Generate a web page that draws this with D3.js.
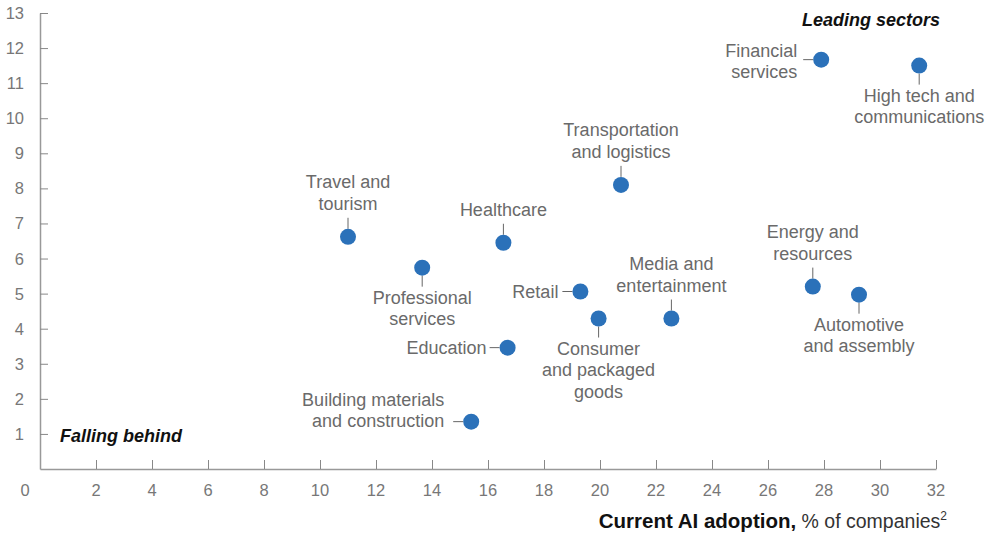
<!DOCTYPE html>
<html>
<head>
<meta charset="utf-8">
<script src="https://cdn.jsdelivr.net/npm/d3@7"></script>
<style>
  html, body { margin: 0; padding: 0; background: #fff; }
  svg { display: block; font-family: "Liberation Sans", Arial, sans-serif; }
  .tick-label { fill: #777; font-size: 16.5px; }
  .pt-label { fill: #6a6a6a; font-size: 18px; }
  .leader { stroke: #666; stroke-width: 1; }
  .corner { fill: #111; font-size: 18px; font-weight: bold; font-style: italic; }
</style>
</head>
<body>
<div id="chart"></div>
<script>
// ---------- Data ----------
const sectors = [
  "Financial services", "High tech and communications", "Transportation and logistics",
  "Travel and tourism", "Healthcare", "Professional services", "Retail",
  "Consumer and packaged goods", "Media and entertainment", "Energy and resources",
  "Automotive and assembly", "Education", "Building materials and construction"
];
const adoption = [27.9, 31.4, 20.75, 11.0, 16.55, 13.65, 19.3, 19.95, 22.55, 27.6, 29.25, 16.7, 15.4];
const growth   = [11.67, 11.5, 8.1, 6.62, 6.45, 5.74, 5.06, 4.29, 4.29, 5.2, 4.97, 3.46, 1.35];

const xTicks = d3.range(2, 33, 2);
const yTicks = d3.range(1, 14);

// label placement (side of the dot, wrapped lines, vertical shift / gap for side labels)
const labelLayout = {
  "Financial services": { side: "left", lines: ["Financial", "services"], dy: -9, gap: 6 },
  "High tech and communications": { side: "bottom", lines: ["High tech and", "communications"] },
  "Transportation and logistics": { side: "top", lines: ["Transportation", "and logistics"] },
  "Travel and tourism": { side: "top", lines: ["Travel and", "tourism"] },
  "Healthcare": { side: "top", lines: ["Healthcare"] },
  "Professional services": { side: "bottom", lines: ["Professional", "services"] },
  "Retail": { side: "left", lines: ["Retail"], dy: 0, gap: 4 },
  "Consumer and packaged goods": { side: "bottom", lines: ["Consumer", "and packaged", "goods"] },
  "Media and entertainment": { side: "top", lines: ["Media and", "entertainment"] },
  "Energy and resources": { side: "top", lines: ["Energy and", "resources"] },
  "Automotive and assembly": { side: "bottom", lines: ["Automotive", "and assembly"] },
  "Education": { side: "left", lines: ["Education"], dy: 0, gap: 3 },
  "Building materials and construction": { side: "left", lines: ["Building materials", "and construction"], dy: -22, gap: 9 }
};

const points = sectors.map((name, i) => ({ name, x: adoption[i], y: growth[i] }));

// ---------- Chart ----------
const width = 986, height = 538;
const r = 8, lineH = 21.5;

const svg = d3.select("#chart").append("svg")
  .attr("width", width)
  .attr("height", height);

const x = d3.scaleLinear().domain([0, 32]).range([40, 936]);
const y = d3.scaleLinear().domain([0, 13]).range([469, 13]);

// axes
svg.append("g")
  .attr("transform", `translate(0,${y(0)})`)
  .call(d3.axisBottom(x).tickValues(xTicks).tickSizeInner(-9).tickSizeOuter(0).tickFormat(""))
  .call(g => g.select(".domain").attr("stroke", "#999").attr("stroke-width", 1.5))
  .call(g => g.selectAll(".tick line").attr("stroke", "#888"));

svg.append("g")
  .attr("transform", `translate(${x(0)},0)`)
  .call(d3.axisLeft(y).tickValues(yTicks).tickSizeInner(-8).tickSizeOuter(0).tickFormat(""))
  .call(g => g.select(".domain").attr("stroke", "#999").attr("stroke-width", 1.5))
  .call(g => g.selectAll(".tick line").attr("stroke", "#888"));

// tick labels
svg.append("g").selectAll("text")
  .data(xTicks)
  .join("text")
  .attr("class", "tick-label")
  .attr("x", d => x(d))
  .attr("y", 496)
  .attr("text-anchor", "middle")
  .text(d => d);

svg.append("text")
  .attr("class", "tick-label")
  .attr("x", 25)
  .attr("y", 496)
  .attr("text-anchor", "middle")
  .text("0");

svg.append("g").selectAll("text")
  .data(yTicks)
  .join("text")
  .attr("class", "tick-label")
  .attr("x", 24)
  .attr("y", d => y(d) + 6)
  .attr("text-anchor", "end")
  .text(d => d);

// axis title
const title = svg.append("text")
  .attr("x", 947)
  .attr("y", 528)
  .attr("text-anchor", "end")
  .attr("fill", "#111");
title.append("tspan").attr("font-weight", "bold").style("font-size", "20.5px").text("Current AI adoption,");
title.append("tspan").attr("fill", "#333").style("font-size", "19.5px").text(" % of companies");
title.append("tspan").attr("fill", "#333").attr("dy", -8).style("font-size", "12px").text("2");

// corner notes
svg.append("text").attr("class", "corner")
  .attr("x", 940).attr("y", 26).attr("text-anchor", "end")
  .text("Leading sectors");
svg.append("text").attr("class", "corner")
  .attr("x", 60).attr("y", 442)
  .text("Falling behind");

// labels + leaders
const lab = svg.append("g");
points.forEach(p => {
  const L = labelLayout[p.name];
  const cx = x(p.x), cy = y(p.y);
  let lx, ly, anchor;
  if (L.side === "top") {
    lab.append("line").attr("class", "leader")
      .attr("x1", cx).attr("x2", cx).attr("y1", cy - r).attr("y2", cy - r - 11);
    anchor = "middle"; lx = cx;
    ly = cy - r - 11 - 8 - (L.lines.length - 1) * lineH;
  } else if (L.side === "bottom") {
    lab.append("line").attr("class", "leader")
      .attr("x1", cx).attr("x2", cx).attr("y1", cy + r).attr("y2", cy + r + 11);
    anchor = "middle"; lx = cx;
    ly = cy + r + 11 + 17;
  } else {
    lab.append("line").attr("class", "leader")
      .attr("x1", cx - r).attr("x2", cx - r - 10).attr("y1", cy).attr("y2", cy);
    anchor = "end"; lx = cx - r - 10 - L.gap;
    ly = cy + 6 + (L.dy || 0);
  }
  const t = lab.append("text").attr("class", "pt-label")
    .attr("text-anchor", anchor);
  L.lines.forEach((s, i) => {
    t.append("tspan").attr("x", lx).attr("y", ly + i * lineH).text(s);
  });
});

// dots
svg.append("g").selectAll("circle")
  .data(points)
  .join("circle")
  .attr("cx", d => x(d.x))
  .attr("cy", d => y(d.y))
  .attr("r", r)
  .attr("fill", "#2b71b9");
</script>
</body>
</html>
